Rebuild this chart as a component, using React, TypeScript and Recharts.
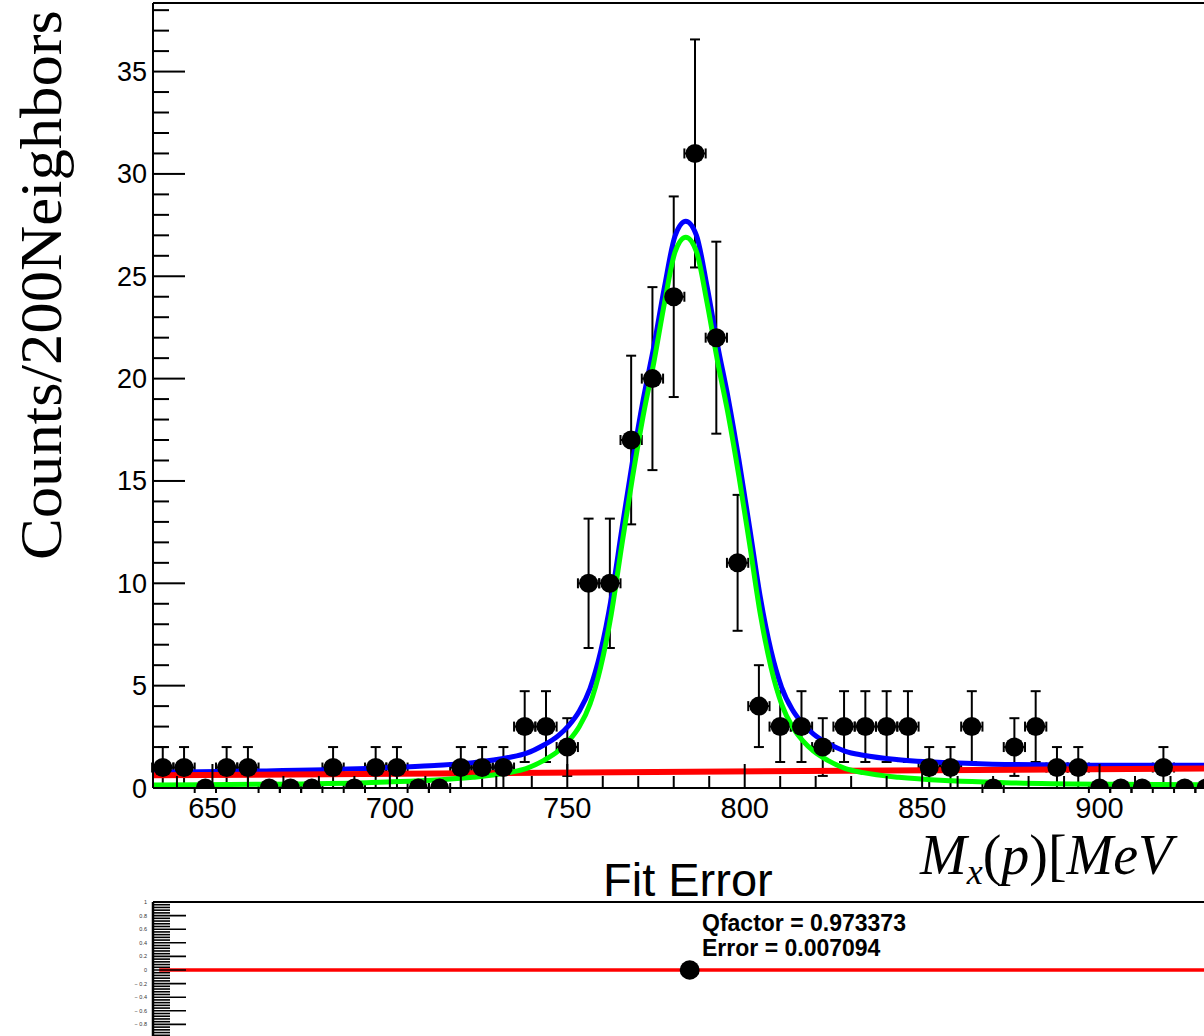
import React from "react";
import { ComposedChart, Scatter, Line, XAxis, YAxis, ErrorBar, ReferenceLine } from "recharts";

// histogram bins (6 MeV wide)
const binCenters = [
  636, 642, 648, 654, 660, 666, 672, 678, 684, 690,
  696, 702, 708, 714, 720, 726, 732, 738, 744, 750,
  756, 762, 768, 774, 780, 786, 792, 798, 804, 810,
  816, 822, 828, 834, 840, 846, 852, 858, 864, 870,
  876, 882, 888, 894, 900, 906, 912, 918, 924, 930,
];
const counts = [
  1, 1, 0, 1, 1, 0, 0, 0, 1, 0,
  1, 1, 0, 0, 1, 1, 1, 3, 3, 2,
  10, 10, 17, 20, 24, 31, 22, 11, 4, 3,
  3, 2, 3, 3, 3, 3, 1, 1, 3, 0,
  2, 3, 1, 1, 0, 0, 0, 1, 0, 0,
];
const countErr = [
  1, 1, 0, 1, 1, 0, 0, 0, 1, 0,
  1, 1, 0, 0, 1, 1, 1, 1.73, 1.73, 1.41,
  3.16, 3.16, 4.12, 4.47, 4.9, 5.57, 4.69, 3.32, 2, 1.73,
  1.73, 1.41, 1.73, 1.73, 1.73, 1.73, 1, 1, 1.73, 0,
  1.41, 1.73, 1, 1, 0, 0, 0, 1, 0, 0,
];
const HALF_BIN = 3;

// fit curves
const curveMass = [
  633.4, 663.4, 693.4, 708.4, 723.4, 733.4, 738.4, 743.4, 747.4, 750.4,
  753.4, 756.4, 759.4, 762.4, 765.4, 768.4, 771.4, 774.4, 777.4, 780.4,
  783.4, 786.4, 789.4, 792.4, 795.4, 798.4, 801.4, 804.4, 807.4, 810.4,
  813.4, 816.4, 819.4, 823.4, 828.4, 833.4, 843.4, 858.4, 873.4, 903.4,
  933.4, 943.4,
];
const signalFit = [
  0.15, 0.18, 0.26, 0.35, 0.52, 0.75, 0.95, 1.35, 1.8, 2.3,
  3.0, 4.1, 5.9, 8.5, 11.9, 15.2, 18.2, 20.8, 23.7, 26.2,
  26.9, 26.2, 23.7, 20.8, 18.2, 15.2, 11.9, 8.5, 5.9, 4.1,
  3.0, 2.3, 1.8, 1.35, 0.95, 0.75, 0.52, 0.35, 0.26, 0.18,
  0.15, 0.14,
];
const totalFit = [
  0.77, 0.83, 0.95, 1.06, 1.24, 1.49, 1.69, 2.1, 2.55, 3.05,
  3.76, 4.86, 6.66, 9.27, 12.67, 15.98, 18.98, 21.58, 24.49, 26.99,
  27.69, 27.0, 24.5, 21.6, 19.0, 16.0, 12.71, 9.32, 6.72, 4.92,
  3.83, 3.13, 2.63, 2.19, 1.79, 1.6, 1.38, 1.23, 1.15, 1.11,
  1.11, 1.11,
];
const bgMass = [633.25, 943];
const bgFit = [0.62, 0.97];

const xTicks = [640, 650, 660, 670, 680, 690, 700, 710, 720, 730, 740, 750, 760, 770, 780, 790, 800,
  810, 820, 830, 840, 850, 860, 870, 880, 890, 900, 910, 920, 930, 940];
const yTicks = [0, 1, 2, 3, 4, 5, 6, 7, 8, 9, 10, 11, 12, 13, 14, 15, 16, 17, 18, 19, 20,
  21, 22, 23, 24, 25, 26, 27, 28, 29, 30, 31, 32, 33, 34, 35, 36, 37, 38];

// fit error panel
const qMass = [784.5];
const qDiff = [0];
const qLineMass = [635, 943];
const qTicks = [
  -1, -0.96, -0.92, -0.88, -0.84, -0.8, -0.76, -0.72, -0.68, -0.64, -0.6, -0.56, -0.52, -0.48, -0.44,
  -0.4, -0.36, -0.32, -0.28, -0.24, -0.2, -0.16, -0.12, -0.08, -0.04, 0, 0.04, 0.08, 0.12, 0.16, 0.2,
  0.24, 0.28, 0.32, 0.36, 0.4, 0.44, 0.48, 0.52, 0.56, 0.6, 0.64, 0.68, 0.72, 0.76, 0.8, 0.84, 0.88,
  0.92, 0.96, 1,
];
const qBottomTicks = [650, 700, 750, 800, 850, 900];

const X_MIN = 633.25;
const X_MAX = 942.4;
const Y_MAX = 38.35;

const SANS = "'Liberation Sans', Arial, Helvetica, sans-serif";
const SERIF = "'Liberation Serif', 'Times New Roman', serif";

const points = binCenters.map((m, i) => ({ mass: m, y: counts[i], ey: countErr[i], ex: HALF_BIN }));
const sigData = curveMass.map((m, i) => ({ mass: m, y: signalFit[i] }));
const totData = curveMass.map((m, i) => ({ mass: m, y: totalFit[i] }));
const bgData = bgMass.map((m, i) => ({ mass: m, y: bgFit[i] }));
const qPoint = qMass.map((m, i) => ({ mass: m, y: qDiff[i] }));
const qLine = qLineMass.map((m) => ({ mass: m, y: 0 }));

const YTick = (props: any) => {
  const { x, y, payload } = props;
  const v = payload.value;
  const major = v % 5 === 0;
  const ax = x + 6;
  return (
    <g>
      <line x1={ax} x2={ax + (major ? 32 : 16)} y1={y} y2={y} stroke="#000" strokeWidth={2} />
      {major && (
        <text x={x} y={y + 9.5} textAnchor="end" fontSize={27} fontFamily={SANS} fill="#000">
          {v}
        </text>
      )}
    </g>
  );
};

const XTick = (props: any) => {
  const { x, y, payload } = props;
  const v = payload.value;
  const major = v % 50 === 0;
  const ay = y - 8;
  return (
    <g>
      <line x1={x} x2={x} y1={ay} y2={ay - (major ? 24 : 12)} stroke="#000" strokeWidth={2} />
      {major && (
        <text x={x} y={ay + 30} textAnchor="middle" fontSize={29} fontFamily={SANS} fill="#000">
          {v}
        </text>
      )}
    </g>
  );
};

const QTick = (props: any) => {
  const { x, y, payload } = props;
  const v = payload.value;
  const major = Math.abs(v * 5 - Math.round(v * 5)) < 1e-6;
  const ax = x + 6;
  let label = String(Math.abs(v));
  if (v < 0) label = "\u2212 " + label;
  // the -1 label sits below the visible area
  const showLabel = major && v > -1;
  return (
    <g>
      <line x1={ax} x2={ax + (major ? 33 : 17)} y1={y} y2={y} stroke="#000" strokeWidth={1.6} />
      {showLabel && (
        <text x={x} y={y + 2} textAnchor="end" fontSize={5.5} fontFamily={SANS} fill="#333">
          {label}
        </text>
      )}
    </g>
  );
};

const QXTick = (props: any) => {
  const { x, y } = props;
  return <line x1={x} x2={x} y1={y} y2={y - 5} stroke="#000" strokeWidth={1.5} />;
};

export default function App() {
  return (
    <div style={{ position: "absolute", left: 0, top: 0, width: 1204, height: 1036, overflow: "hidden", background: "#fff" }}>
      <div style={{ position: "absolute", left: 0, top: 0 }}>
        <ComposedChart width={1250} height={830} margin={{ top: 3, right: 0, left: 0, bottom: 0 }}>
          <XAxis
            dataKey="mass"
            type="number"
            domain={[X_MIN, X_MAX]}
            allowDataOverflow
            ticks={xTicks}
            interval={0}
            height={42}
            tickSize={0}
            tickMargin={8}
            tickLine={false}
            tick={<XTick />}
            axisLine={{ stroke: "#000", strokeWidth: 2 }}
          />
          <YAxis
            dataKey="y"
            type="number"
            domain={[0, Y_MAX]}
            allowDataOverflow
            ticks={yTicks}
            interval={0}
            width={153}
            tickSize={0}
            tickMargin={6}
            tickLine={false}
            tick={<YTick />}
            axisLine={{ stroke: "#000", strokeWidth: 2 }}
          />
          <ReferenceLine y={Y_MAX} stroke="#000" strokeWidth={2} />
          <Scatter
            data={points}
            isAnimationActive={false}
            shape={(p: any) => <circle cx={p.cx} cy={p.cy} r={9.5} fill="#000" />}
          >
            <ErrorBar dataKey="ey" direction="y" width={5} stroke="#000" strokeWidth={2} />
            <ErrorBar dataKey="ex" direction="x" width={5} stroke="#000" strokeWidth={2} />
          </Scatter>
          <Line data={totData} dataKey="y" type="monotone" stroke="#0000ff" strokeWidth={5} dot={false} isAnimationActive={false} />
          <Line data={bgData} dataKey="y" type="linear" stroke="#ff0000" strokeWidth={6} dot={false} isAnimationActive={false} />
          <Line data={sigData} dataKey="y" type="monotone" stroke="#00ff00" strokeWidth={5} dot={false} isAnimationActive={false} />
        </ComposedChart>
      </div>

      <div style={{ position: "absolute", left: 0, top: 900 }}>
        <ComposedChart width={1250} height={138} margin={{ top: 2, right: 0, left: 0, bottom: 0 }}>
          <XAxis
            dataKey="mass"
            type="number"
            domain={[X_MIN, X_MAX]}
            allowDataOverflow
            ticks={qBottomTicks}
            interval={0}
            height={0}
            tickSize={0}
            tickMargin={0}
            tickLine={false}
            tick={<QXTick />}
            axisLine={{ stroke: "#000", strokeWidth: 2 }}
          />
          <YAxis
            dataKey="y"
            type="number"
            domain={[-1, 1]}
            ticks={qTicks}
            interval={0}
            width={153}
            tickSize={0}
            tickMargin={6}
            tickLine={false}
            tick={<QTick />}
            axisLine={{ stroke: "#000", strokeWidth: 2.5 }}
          />
          <ReferenceLine y={1} stroke="#000" strokeWidth={2} />
          <Line data={qLine} dataKey="y" type="linear" stroke="#ff0000" strokeWidth={3.5} dot={false} isAnimationActive={false} />
          <Scatter
            data={qPoint}
            isAnimationActive={false}
            shape={(p: any) => <ellipse cx={p.cx} cy={p.cy} rx={10} ry={9.7} fill="#000" />}
          />
        </ComposedChart>
      </div>

      <svg width={1204} height={1036} style={{ position: "absolute", left: 0, top: 0, pointerEvents: "none" }}>
        <text
          x={61}
          y={285}
          transform="rotate(-90 61 285)"
          textAnchor="middle"
          fontSize={60}
          fontFamily={SERIF}
          textLength={550}
          lengthAdjust="spacingAndGlyphs"
          fill="#000"
        >
          Counts/200Neighbors
        </text>
        <text x={920} y={874} fontSize={56} fontFamily={SERIF} fill="#000">
          <tspan fontStyle="italic">M</tspan>
          <tspan fontStyle="italic" fontSize={36} dy={10}>x</tspan>
          <tspan dy={-10}>(</tspan>
          <tspan fontStyle="italic">p</tspan>
          <tspan>)[</tspan>
          <tspan fontStyle="italic">MeV</tspan>
        </text>
        <text x={603} y={896} fontSize={47} fontFamily={SANS} fill="#000">
          Fit Error
        </text>
        <text x={702} y={931} fontSize={23} fontWeight="bold" fontFamily={SANS} fill="#000">
          Qfactor = 0.973373
        </text>
        <text x={702} y={956} fontSize={23} fontWeight="bold" fontFamily={SANS} fill="#000">
          Error = 0.007094
        </text>
      </svg>
    </div>
  );
}
